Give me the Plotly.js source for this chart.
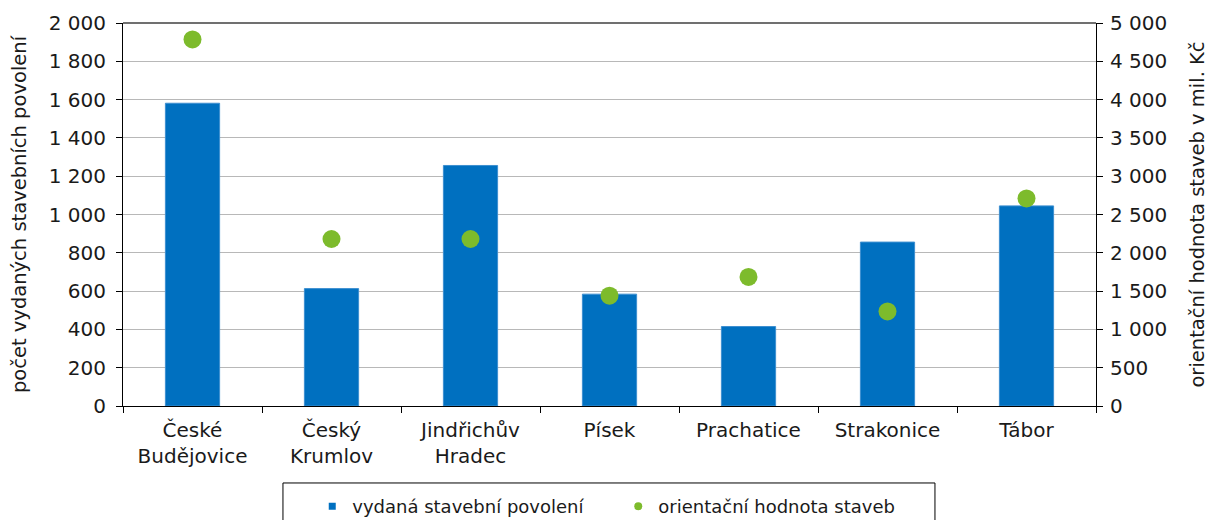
<!DOCTYPE html>
<html>
<head>
<meta charset="utf-8">
<script src="https://cdn.plot.ly/plotly-3.0.1.min.js"></script>
<style>html,body{margin:0;padding:0;background:#fff;}#chart{width:1216px;height:520px;}</style>
</head>
<body>
<div id="chart"></div>
<script>
const categories = ["České<br>Budějovice", "Český<br>Krumlov", "Jindřichův<br>Hradec", "Písek", "Prachatice", "Strakonice", "Tábor"];
const permits = [1581, 613, 1256, 584, 415, 856, 1045];
const valueMilCZK = [4785, 2180, 2180, 1440, 1685, 1235, 2710];
const seriesNames = ["vydaná stavební povolení", "orientační hodnota staveb"];
const leftTitle = "počet vydaných stavebních povolení";
const rightTitle = "orientační hodnota staveb v mil. Kč";

const FONT = "DejaVu Sans, Liberation Sans, Arial, sans-serif";
const TXT = "#1a1a1a";
const BLUE = "#0070C0";
const GREEN = "#7DBB2C";

const traces = [
  {
    type: "bar",
    x: categories,
    y: permits,
    name: seriesNames[0],
    showlegend: false,
    marker: {color: BLUE, line: {color: "#3d8fd0", width: 1}},
    yaxis: "y"
  },
  {
    type: "scatter",
    mode: "markers",
    x: categories,
    y: valueMilCZK,
    name: seriesNames[1],
    showlegend: false,
    marker: {color: GREEN, size: 18},
    yaxis: "y2"
  },
  // legend-only entries (small symbols like the reference legend)
  {
    type: "scatter", mode: "markers", x: [null], y: [null],
    name: seriesNames[0], marker: {color: BLUE, symbol: "square", size: 7}, yaxis: "y"
  },
  {
    type: "scatter", mode: "markers", x: [null], y: [null],
    name: seriesNames[1], marker: {color: GREEN, symbol: "circle", size: 8}, yaxis: "y2"
  }
];

const layout = {
  width: 1216,
  height: 520,
  margin: {l: 123, r: 120, t: 23, b: 114, autoexpand: false},
  paper_bgcolor: "#ffffff",
  plot_bgcolor: "#ffffff",
  separators: ", ",
  font: {family: FONT, size: 19, color: TXT},
  bargap: 0.61,
  showlegend: true,
  legend: {
    orientation: "h",
    xref: "paper",
    x: 0.1945, xanchor: "left",
    yref: "container",
    y: 0.0615, yanchor: "top",
    borderwidth: 0,
    bgcolor: "rgba(0,0,0,0)",
    font: {family: FONT, size: 18, color: TXT},
    entrywidth: 261,
    itemwidth: 30,
    traceorder: "normal"
  },
  xaxis: {
    type: "category",
    automargin: false,
    showline: true,
    linecolor: "#000000",
    linewidth: 1,
    ticks: "outside",
    tickson: "boundaries",
    ticklen: 6,
    tickcolor: "#000000",
    ticklabelstandoff: 6,
    showgrid: false,
    tickfont: {family: FONT, size: 20, color: TXT}
  },
  yaxis: {
    range: [0, 2000],
    dtick: 200,
    tick0: 0,
    tickformat: ",d",
    automargin: false,
    showline: true,
    linecolor: "#000000",
    linewidth: 1,
    ticks: "outside",
    ticklen: 6,
    tickcolor: "#000000",
    ticklabelstandoff: 6,
    showgrid: true,
    gridcolor: "#b8b8b8",
    gridwidth: 1,
    zeroline: false,
    tickfont: {family: FONT, size: 20, color: TXT},
    title: {text: leftTitle, font: {family: FONT, size: 19.5, color: TXT}, standoff: 16}
  },
  yaxis2: {
    range: [0, 5000],
    dtick: 500,
    tick0: 0,
    tickformat: ",d",
    automargin: false,
    overlaying: "y",
    side: "right",
    showline: true,
    linecolor: "#000000",
    linewidth: 1,
    ticks: "outside",
    ticklen: 6,
    tickcolor: "#000000",
    ticklabelstandoff: 3,
    showgrid: false,
    zeroline: false,
    tickfont: {family: FONT, size: 20, color: TXT},
    title: {text: rightTitle, font: {family: FONT, size: 19.5, color: TXT}, standoff: 24}
  },
  shapes: [
    {type: "line", xref: "paper", yref: "paper", x0: 0, x1: 1, y0: 1, y1: 1, line: {color: "#404040", width: 1.5}},
    // legend frame (reference has generous inner padding)
    {type: "rect", xref: "paper", yref: "paper", x0: 0.1644, x1: 0.8345, y0: -0.201, y1: -0.34,
     line: {color: "#000000", width: 1}, fillcolor: "rgba(0,0,0,0)"}
  ]
};

Plotly.newPlot("chart", traces, layout, {displayModeBar: false, staticPlot: true});
</script>
</body>
</html>
